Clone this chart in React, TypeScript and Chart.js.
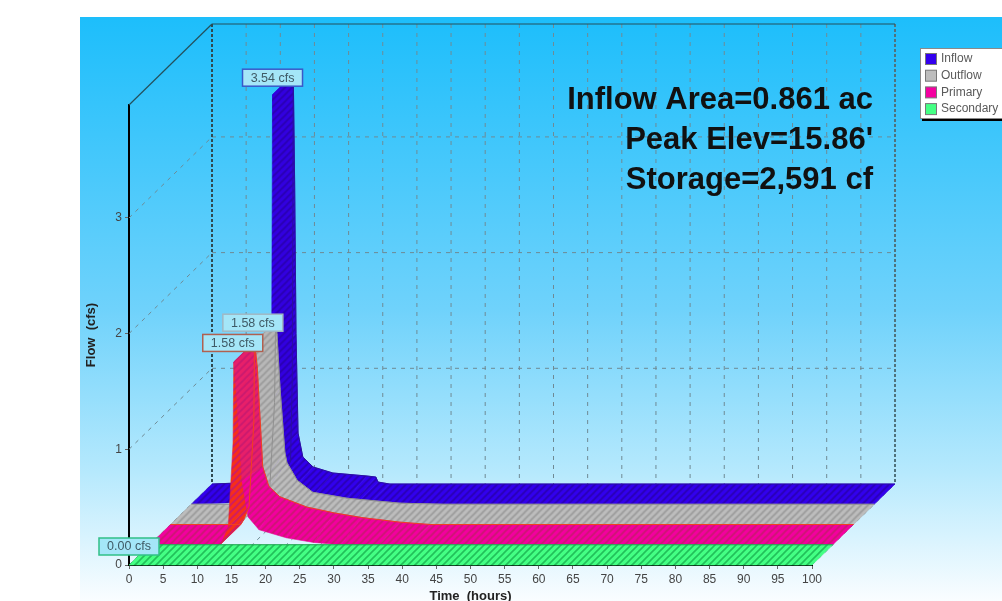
import React, { useEffect, useRef } from "react";
import { Chart, registerables } from "chart.js";

Chart.register(...registerables);

const seriesNames = ["Inflow", "Outflow", "Primary", "Secondary"];

const inflowTimes = [0, 9, 10.5, 11.5, 11.75, 11.9, 12.1, 12.3, 12.6, 13.3, 14.8, 17.7, 22.7, 24, 24.3, 26, 100];
const inflowFlow = [0, 0.02, 0.05, 0.2, 0.9, 3.54, 2.6, 1.3, 0.44, 0.2, 0.12, 0.07, 0.04, 0.03, 0.01, 0, 0];
const inflowCrest = [0, 0.02, 0.05, 0.2, 0.9, 3.54, 2.6, 1.3, 0.44, 0.233, 0.147, 0.095, 0.069, 0.06, 0.017, 0, 0];

const outflowTimes = [0, 8, 10.5, 11.5, 12.2, 12.35, 12.55, 13, 13.7, 14, 15.5, 17.8, 22.8, 30.6, 37, 100];
const outflowFlow = [0, 0, 0.03, 0.15, 0.88, 1.58, 1.4, 0.9, 0.38, 0.3, 0.15, 0.08, 0.04, 0.005, 0, 0];
const outflowCrest = [0, 0, 0.03, 0.15, 0.88, 1.58, 1.47, 1.0, 0.45, 0.36, 0.207, 0.103, 0.052, 0.009, 0, 0];

const primaryTimes = [0, 10.3, 10.7, 11.5, 12.2, 12.3, 12.7, 13.5, 14.4, 16, 20, 24, 28, 33.6, 38, 100];
const primaryFlow = [0, 0, 0.04, 0.155, 0.88, 1.58, 1.3, 0.55, 0.24, 0.13, 0.06, 0.02, 0, 0, 0, 0];
const primaryCrest = [0, 0, 0.04, 0.155, 0.88, 1.58, 1.36, 0.5, 0.33, 0.24, 0.15, 0.1, 0.06, 0.02, 0, 0];

const secondaryTimes = [0, 100];
const secondaryFlow = [0, 0];
const secondaryCrest = [0, 0];

const noteLines = ["Inflow Area=0.861 ac", "Peak Elev=15.86'", "Storage=2,591 cf"];

const SLAB_DX = 20.75;
const SLAB_DY = -20.25;
const WALL_DX = SLAB_DX * 4;
const WALL_DY = SLAB_DY * 4;

type Face = { base: string; stripe: string; rise: string; fall: string; edge: string; label: string };
const faces: Face[] = [
  { base: "#3300ee", stripe: "#2a00b0", rise: "#3300ee", fall: "#3300e0", edge: "#2a10a0", label: "#3a58c8" },
  { base: "#bdbdbd", stripe: "#9a9a9a", rise: "#bdbdbd", fall: "#b8b8b8", edge: "#909090", label: "#a0b8c4" },
  { base: "#f400a0", stripe: "#c81a70", rise: "#f83018", fall: "#e8206a", edge: "#f04020", label: "#b06050" },
  { base: "#44ff84", stripe: "#22c05a", rise: "#44ff84", fall: "#44ff84", edge: "#20a050", label: "#30c088" },
];
const labelShift = [
  [0, -17],
  [-2, -19],
  [-1, -19],
  [0, -18.5],
];

function stripes(ctx: CanvasRenderingContext2D, base: string, stripe: string) {
  const size = 7;
  const c = document.createElement("canvas");
  c.width = size;
  c.height = size;
  const g = c.getContext("2d")!;
  g.fillStyle = base;
  g.fillRect(0, 0, size, size);
  g.strokeStyle = stripe;
  g.lineWidth = 1.6;
  g.beginPath();
  g.moveTo(-1, size + 1);
  g.lineTo(size + 1, -1);
  g.moveTo(-size / 2 - 1, size / 2 + 1);
  g.lineTo(size / 2 + 1, -size / 2 - 1);
  g.moveTo(size / 2 - 1, size * 1.5 + 1);
  g.lineTo(size * 1.5 + 1, size / 2 - 1);
  g.stroke();
  return ctx.createPattern(c, "repeat")!;
}

const depthOf = (datasetIndex: number) => 3 - datasetIndex;

const ribbonPlugin = {
  id: "ribbon",
  beforeDatasetDraw(chart: any, args: any) {
    const { ctx, scales } = chart;
    const idx = args.index;
    const face = faces[idx];
    const pts = args.meta.data;
    const ds = chart.data.datasets[idx];
    const raw = ds.data;
    const crestY = ds.crest.map((v: number) => scales.y.getPixelForValue(v) + SLAB_DY);
    const depth = depthOf(idx);
    const dx = SLAB_DX;
    const base = stripes(ctx, face.base, face.stripe);
    const rise = stripes(ctx, face.rise, face.stripe);
    const fall = stripes(ctx, face.fall, face.stripe);
    ctx.save();
    ctx.translate(depth * SLAB_DX, depth * SLAB_DY);
    ctx.lineWidth = 0.6;
    for (let i = 0; i < pts.length - 1; i++) {
      const a = pts[i];
      const b = pts[i + 1];
      const slope = (raw[i + 1].y - raw[i].y) / (raw[i + 1].x - raw[i].x);
      const fill = slope > 0.1 ? rise : slope < -0.4 ? fall : base;
      ctx.fillStyle = fill;
      ctx.strokeStyle = fill;
      ctx.beginPath();
      ctx.moveTo(a.x, a.y);
      ctx.lineTo(b.x, b.y);
      ctx.lineTo(b.x + dx, crestY[i + 1]);
      ctx.lineTo(a.x + dx, crestY[i]);
      ctx.closePath();
      ctx.fill();
      ctx.stroke();
    }
    ctx.strokeStyle = face.edge;
    ctx.lineWidth = 1;
    ctx.beginPath();
    pts.forEach((p: any, i: number) => (i ? ctx.lineTo(p.x + dx, crestY[i]) : ctx.moveTo(p.x + dx, crestY[i])));
    ctx.stroke();
    ctx.restore();
  },
};

const framePlugin = {
  id: "frame",
  beforeDraw(chart: any) {
    const { ctx, width, height } = chart;
    ctx.save();
    const g = ctx.createLinearGradient(0, 17, 0, height);
    g.addColorStop(0, "#1dbefb");
    g.addColorStop(0.5, "#6fd2fb");
    g.addColorStop(0.78, "#b6e9fd");
    g.addColorStop(1, "#fafdff");
    ctx.fillStyle = g;
    ctx.fillRect(80, 17, width - 80, height - 17);
    ctx.fillStyle = "#000";
    ctx.fillRect(922, 52, 80, 69);
    ctx.fillStyle = "#fff";
    ctx.strokeStyle = "#8a8a8a";
    ctx.fillRect(920, 48, 82, 70);
    ctx.strokeRect(920.5, 48.5, 82, 70);
    ctx.restore();
  },
  beforeDatasetsDraw(chart: any) {
    const { ctx, scales } = chart;
    const xs = scales.x;
    const ys = scales.y;
    const x0 = xs.getPixelForValue(0);
    const x100 = xs.getPixelForValue(100);
    const y0 = ys.getPixelForValue(0);
    const top = ys.top;
    const line = (a: number, b: number, c: number, d: number) => {
      ctx.beginPath();
      ctx.moveTo(a, b);
      ctx.lineTo(c, d);
      ctx.stroke();
    };
    ctx.save();
    ctx.strokeStyle = "#6f8a94";
    ctx.lineWidth = 1;
    ctx.setLineDash([4, 5]);
    for (const t of xs.ticks) {
      if (t.value % 5 !== 0) continue;
      const px = xs.getPixelForValue(t.value);
      if (t.value !== 0 && t.value !== 100) line(px + WALL_DX, top + WALL_DY, px + WALL_DX, y0 + WALL_DY);
      line(px, y0, px + WALL_DX, y0 + WALL_DY);
    }
    for (const t of ys.ticks) {
      if (t.value === 0) continue;
      const py = ys.getPixelForValue(t.value);
      line(x0, py, x0 + WALL_DX, py + WALL_DY);
      line(x0 + WALL_DX, py + WALL_DY, x100 + WALL_DX, py + WALL_DY);
    }
    ctx.strokeStyle = "#2f4a50";
    ctx.lineWidth = 2;
    ctx.setLineDash([3, 2]);
    line(x0 + WALL_DX, top + WALL_DY, x0 + WALL_DX, y0 + WALL_DY);
    ctx.strokeStyle = "#50727c";
    line(x100 + WALL_DX, top + WALL_DY, x100 + WALL_DX, y0 + WALL_DY);
    ctx.setLineDash([]);
    ctx.strokeStyle = "#24505c";
    ctx.lineWidth = 1.2;
    line(x0, top, x0 + WALL_DX, top + WALL_DY);
    line(x0 + WALL_DX, top + WALL_DY, x100 + WALL_DX, top + WALL_DY);
    ctx.restore();
  },
  afterDatasetsDraw(chart: any) {
    const { ctx } = chart;
    ctx.save();
    chart.data.datasets.forEach((ds: any, i: number) => {
      const pts = chart.getDatasetMeta(i).data;
      let peak = 0;
      ds.data.forEach((d: any, k: number) => {
        if (d.y > ds.data[peak].y) peak = k;
      });
      const depth = depthOf(i);
      const cx = pts[peak].x + depth * SLAB_DX + labelShift[i][0];
      const cy = pts[peak].y + depth * SLAB_DY + labelShift[i][1];
      ctx.fillStyle = "#a4e6f8";
      ctx.strokeStyle = faces[i].label;
      ctx.lineWidth = 1.5;
      ctx.fillRect(cx - 30, cy - 8.5, 60, 17);
      ctx.strokeRect(cx - 30, cy - 8.5, 60, 17);
      ctx.fillStyle = "#3f5a66";
      ctx.font = '12.5px "Liberation Sans"';
      ctx.textAlign = "center";
      ctx.textBaseline = "middle";
      ctx.fillText(`${ds.data[peak].y.toFixed(2)} cfs`, cx, cy + 0.5);
    });
    ctx.fillStyle = "#111";
    ctx.font = 'bold 31px "Liberation Sans"';
    ctx.textAlign = "right";
    ctx.textBaseline = "alphabetic";
    noteLines.forEach((s, i) => ctx.fillText(s, 873, 109 + i * 40));
    // legend text and swatches, from the dataset labels
    ctx.textAlign = "left";
    ctx.textBaseline = "middle";
    ctx.font = '12px "Liberation Sans"';
    chart.data.datasets.forEach((ds: any, i: number) => {
      const y = 59 + i * 16.7;
      ctx.fillStyle = faces[i].base;
      ctx.strokeStyle = "#777";
      ctx.lineWidth = 1;
      ctx.fillRect(925.5, y - 5.5, 11, 11);
      ctx.strokeRect(925.5, y - 5.5, 11, 11);
      ctx.fillStyle = "#5a5a5a";
      ctx.fillText(ds.label, 941, y);
    });
    ctx.restore();
  },
};

const pairs = (t: number[], v: number[]) => t.map((x, i) => ({ x, y: v[i] }));

export default function App() {
  const ref = useRef<HTMLCanvasElement>(null);
  useEffect(() => {
    const chart = new Chart(ref.current!, {
      type: "scatter",
      data: {
        datasets: [
          { label: seriesNames[0], data: pairs(inflowTimes, inflowFlow), crest: inflowCrest, order: 3 },
          { label: seriesNames[1], data: pairs(outflowTimes, outflowFlow), crest: outflowCrest, order: 2 },
          { label: seriesNames[2], data: pairs(primaryTimes, primaryFlow), crest: primaryCrest, order: 1 },
          { label: seriesNames[3], data: pairs(secondaryTimes, secondaryFlow), crest: secondaryCrest, order: 0 },
        ].map((d, i) => ({
          ...d,
          showLine: true,
          borderWidth: 0,
          borderColor: "#777",
          backgroundColor: faces[i].base,
          pointRadius: 0,
          clip: false,
          tension: 0,
        })) as any,
      },
      options: {
        responsive: false,
        animation: false,
        layout: { padding: { top: 105, right: 190, left: 0, bottom: 0 } },
        plugins: {
          tooltip: { enabled: false },
          legend: { display: false },
        },
        scales: {
          x: {
            type: "linear",
            min: 0,
            max: 100,
            afterFit: (s: any) => {
              s.height = 36;
            },
            border: { color: "#000", width: 2 },
            grid: { drawOnChartArea: false, tickLength: 4, tickColor: "#666" },
            ticks: {
              stepSize: 1,
              autoSkip: false,
              maxRotation: 0,
              padding: 3,
              color: "#444",
              font: { family: '"Liberation Sans"', size: 12 },
              callback: (v: any) => (Number(v) % 5 === 0 ? String(v) : null),
            },
            title: {
              display: true,
              text: "Time  (hours)",
              color: "#222",
              font: { family: '"Liberation Sans"', size: 13, weight: "bold" },
              padding: { top: 0, bottom: -3 },
            },
          },
          y: {
            type: "linear",
            min: 0,
            max: 3.976,
            afterFit: (s: any) => {
              s.width = 129;
            },
            afterBuildTicks: (s: any) => {
              s.ticks = s.ticks.filter((t: any) => Number.isInteger(t.value));
            },
            border: { color: "#000", width: 2 },
            grid: { drawOnChartArea: false, tickLength: 4, tickColor: "#666" },
            ticks: {
              stepSize: 1,
              padding: 3,
              color: "#444",
              font: { family: '"Liberation Sans"', size: 12 },
            },
            title: {
              display: true,
              text: "Flow  (cfs)",
              color: "#222",
              font: { family: '"Liberation Sans"', size: 13, weight: "bold" },
              padding: { top: 84, bottom: 0 },
            },
          },
        },
      },
      plugins: [framePlugin, ribbonPlugin],
    } as any);
    return () => chart.destroy();
  }, []);
  return (
    <div style={{ position: "fixed", left: 0, top: 0, width: 1002, height: 601 }}>
      <canvas ref={ref} width={1002} height={601} style={{ display: "block" }} />
    </div>
  );
}
